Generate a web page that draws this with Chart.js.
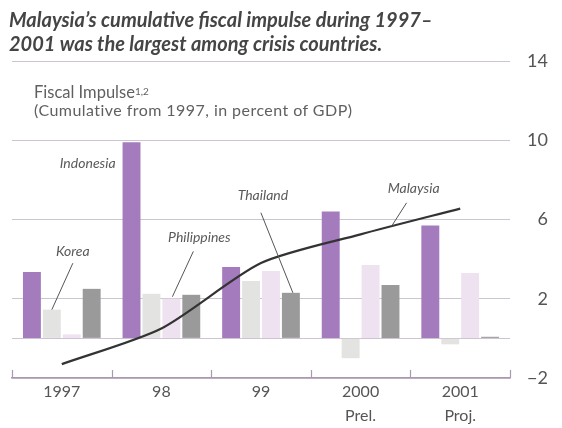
<!DOCTYPE html>
<html>
<head>
<meta charset="utf-8">
<script src="https://cdn.jsdelivr.net/npm/chart.js@4"></script>
<style>
html,body{margin:0;padding:0;background:#fff;}
#wrap{position:relative;width:562px;height:428px;overflow:hidden;background:#fff;}
#c{position:absolute;left:0;top:0;}
.title{position:absolute;left:9px;top:7px;font-family:Lato,sans-serif;font-weight:700;font-style:italic;font-size:20px;line-height:24px;color:#454545;white-space:nowrap;}
.sub1{position:absolute;left:34px;top:82px;font-family:Lato,sans-serif;font-size:16.5px;line-height:20px;color:#606060;white-space:nowrap;}
.sub1 sup{font-size:10px;vertical-align:top;position:relative;top:-1px;}
.sub2{position:absolute;left:34px;top:100px;font-family:Lato,sans-serif;font-size:16px;line-height:20px;letter-spacing:0.45px;color:#606060;white-space:nowrap;}
</style>
</head>
<body>
<div id="wrap">
<canvas id="c" width="562" height="428"></canvas>
<div class="title">Malaysia’s cumulative fiscal impulse during 1997–<br>2001 was the largest among crisis countries.</div>
<div class="sub1">Fiscal Impulse<sup>1,2</sup></div>
<div class="sub2">(Cumulative from 1997, in percent of GDP)</div>
</div>
<script>
// ---- data ----
const categories = [['1997'], ['98'], ['99'], ['2000', 'Prel.'], ['2001', 'Proj.']];
const indonesia   = [3.35, 9.9, 3.6, 6.4, 5.7];
const korea       = [1.45, 2.25, 2.9, -1.0, -0.3];
const philippines = [0.2, 2.0, 3.4, 3.7, 3.3];
const thailand    = [2.5, 2.2, 2.3, 2.7, 0.08];
const malaysia    = [-1.3, 0.5, 3.8, 5.25, 6.55];
const yTickLabels = [-2, 2, 6, 10, 14];
const gridValues  = [-2, 0, 2, 6, 10, 14];

const annoPlugin = {
  id: 'anno',
  afterDatasetsDraw(chart) {
    const ctx = chart.ctx;
    const xs = chart.scales.x, ys = chart.scales.y;
    const area = chart.chartArea;
    const n = categories.length;
    const w = (area.right - area.left) / n;
    // upward ticks on the bottom axis at category boundaries
    ctx.save();
    ctx.strokeStyle = '#a999b0';
    ctx.lineWidth = 1.2;
    for (let i = 0; i <= n; i++) {
      const x = Math.round(xs.getPixelForValue(0) - w / 2 + i * w) + 0.5;
      ctx.beginPath();
      ctx.moveTo(x, area.bottom);
      ctx.lineTo(x, area.bottom - 8);
      ctx.stroke();
    }
    ctx.restore();

    const bar = (ds, i) => chart.getDatasetMeta(ds).data[i];
    ctx.save();
    ctx.font = 'italic 14px Lato, sans-serif';
    ctx.fillStyle = '#5a5a5a';
    ctx.strokeStyle = '#555';
    ctx.lineWidth = 1;
    ctx.textBaseline = 'middle';
    const line = (x1, y1, x2, y2) => { ctx.beginPath(); ctx.moveTo(x1, y1); ctx.lineTo(x2, y2); ctx.stroke(); };

    // Indonesia
    const bI = bar(1, 1);
    ctx.textAlign = 'right';
    ctx.fillText('Indonesia', bI.x - bI.width / 2 - 7, ys.getPixelForValue(8.85));

    // Korea
    const bK = bar(2, 0);
    ctx.textAlign = 'center';
    const kx = bK.x + 21, ky = ys.getPixelForValue(4.4);
    ctx.fillText('Korea', kx, ky);
    line(kx, ky + 12, bK.x, bK.y);

    // Philippines
    const bP = bar(3, 1);
    const px = bP.x + 28, py = ys.getPixelForValue(5.1);
    ctx.fillText('Philippines', px, py);
    line(px - 6, py + 14, bP.x + 1, bP.y - 2);

    // Thailand
    const bT = bar(4, 2);
    const tx = bT.x - 28, ty = ys.getPixelForValue(7.2);
    ctx.fillText('Thailand', tx, ty);
    line(tx - 2, ty + 17, bT.x + 2, bT.y);

    // Malaysia
    const lm = chart.getDatasetMeta(0).data;
    const mx = lm[3].x + 53, my = ys.getPixelForValue(7.55);
    ctx.fillText('Malaysia', mx, my);
    const t = 0.31;
    const ex = lm[3].x + (lm[4].x - lm[3].x) * t;
    const ey = lm[3].y + (lm[4].y - lm[3].y) * t;
    line(mx - 7, my + 14, ex, ey);
    ctx.restore();
  }
};

new Chart(document.getElementById('c'), {
  data: {
    labels: categories,
    datasets: [
      { type: 'line', label: 'Malaysia', data: malaysia, borderColor: '#333333', borderWidth: 2.2,
        pointRadius: 0, tension: 0.25, fill: false, order: 0 },
      { type: 'bar', label: 'Indonesia', data: indonesia, backgroundColor: '#a47cbd', order: 1 },
      { type: 'bar', label: 'Korea', data: korea, backgroundColor: '#e3e3e1', order: 1 },
      { type: 'bar', label: 'Philippines', data: philippines, backgroundColor: '#eee1f0', order: 1 },
      { type: 'bar', label: 'Thailand', data: thailand, backgroundColor: '#9a9a9a', order: 1 }
    ]
  },
  options: {
    responsive: false,
    animation: false,
    devicePixelRatio: 1,
    layout: { padding: { left: 12, right: 14, top: 61, bottom: 0 } },
    datasets: { bar: { categoryPercentage: 0.8, barPercentage: 0.9 } },
    plugins: { legend: { display: false }, tooltip: { enabled: false }, title: { display: false } },
    scales: {
      x: {
        type: 'category',
        offset: true,
        grid: { display: false, drawTicks: false },
        border: { display: true, color: '#a999b0', width: 1.5 },
        ticks: { color: '#555', font: { family: 'Lato', size: 16, lineHeight: 1.5 }, padding: 2, maxRotation: 0, autoSkip: false },
        afterFit(s) { s.height = 50; }
      },
      y: {
        position: 'right',
        min: -2, max: 14,
        afterBuildTicks(s) { s.ticks = gridValues.map(v => ({ value: v })); },
        grid: { color: '#cdc4d1', lineWidth: 1, drawTicks: false },
        border: { display: false },
        ticks: {
          color: '#555', font: { family: 'Lato', size: 18 }, crossAlign: 'far', padding: 0,
          callback: v => yTickLabels.includes(v) ? (v < 0 ? '\u2212' + Math.abs(v) : String(v)) : ''
        },
        afterFit(s) { s.width = 38; }
      }
    }
  },
  plugins: [annoPlugin]
});
</script>
</body>
</html>
